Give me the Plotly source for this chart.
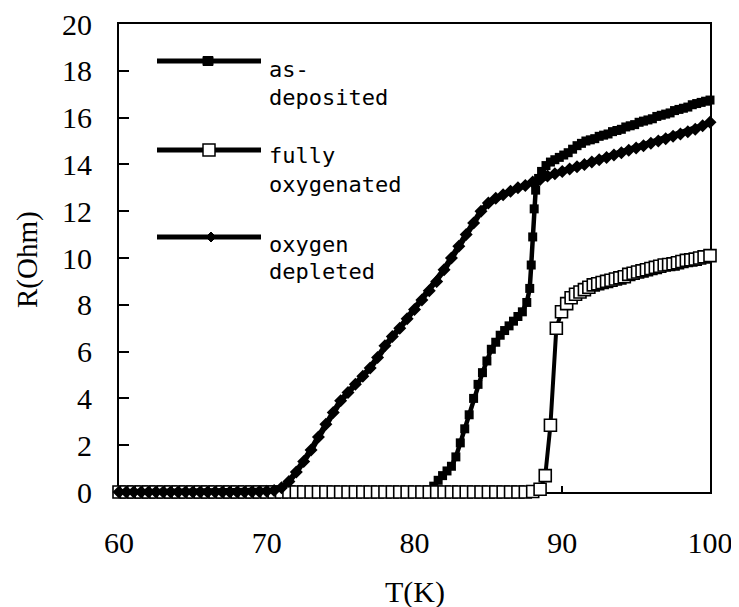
import plotly.graph_objects as go

# ---------------- data ----------------
asdep_T = [60.0, 60.5, 61.0, 61.5, 62.0, 62.5, 63.0, 63.5, 64.0, 64.5, 65.0, 65.5, 66.0, 66.5,
           67.0, 67.5, 68.0, 68.5, 69.0, 69.5, 70.0, 70.5, 71.0, 71.5, 72.0, 72.5, 73.0, 73.5,
           74.0, 74.5, 75.0, 75.5, 76.0, 76.5, 77.0, 77.5, 78.0, 78.5, 79.0, 79.5, 80.0, 80.5,
           81.0, 81.3, 81.6, 81.9, 82.2, 82.5, 82.8, 83.1, 83.4, 83.7, 84.0, 84.3, 84.6, 84.9,
           85.2, 85.5, 85.8, 86.1, 86.4, 86.7, 87.0, 87.3, 87.6, 87.8, 87.9, 88.0, 88.1, 88.2,
           88.4, 88.6, 88.9, 89.2, 89.5, 89.8, 90.1, 90.4, 90.7, 91.0, 91.3, 91.6, 91.9, 92.2,
           92.5, 92.8, 93.1, 93.4, 93.7, 94.0, 94.3, 94.6, 94.9, 95.2, 95.5, 95.8, 96.1, 96.4,
           96.7, 97.0, 97.3, 97.6, 97.9, 98.2, 98.5, 98.8, 99.1, 99.4, 99.7, 100.0]
asdep_R = [0.0, 0.0, 0.0, 0.0, 0.0, 0.0, 0.0, 0.0, 0.0, 0.0, 0.0, 0.0, 0.0, 0.0,
           0.0, 0.0, 0.0, 0.0, 0.0, 0.0, 0.0, 0.0, 0.0, 0.0, 0.0, 0.0, 0.0, 0.0,
           0.0, 0.0, 0.0, 0.0, 0.0, 0.0, 0.0, 0.0, 0.0, 0.0, 0.0, 0.0, 0.0, 0.01,
           0.05, 0.25, 0.5, 0.7, 0.9, 1.1, 1.5, 2.1, 2.7, 3.3, 4.0, 4.6, 5.1, 5.6,
           6.1, 6.4, 6.7, 6.9, 7.1, 7.3, 7.5, 7.7, 8.1, 8.7, 9.7, 10.9, 12.1, 12.9,
           13.4, 13.7, 13.95, 14.1, 14.2, 14.3, 14.4, 14.5, 14.65, 14.8, 14.9, 15.0, 15.05, 15.1,
           15.2, 15.25, 15.3, 15.4, 15.45, 15.5, 15.6, 15.65, 15.7, 15.8, 15.85, 15.9, 15.95, 16.05,
           16.1, 16.15, 16.2, 16.3, 16.35, 16.4, 16.45, 16.55, 16.6, 16.65, 16.7, 16.75]

oxy_T = [60.0, 60.5, 61.0, 61.5, 62.0, 62.5, 63.0, 63.5, 64.0, 64.5, 65.0, 65.5, 66.0, 66.5,
         67.0, 67.5, 68.0, 68.5, 69.0, 69.5, 70.0, 70.5, 71.0, 71.5, 72.0, 72.5, 73.0, 73.5,
         74.0, 74.5, 75.0, 75.5, 76.0, 76.5, 77.0, 77.5, 78.0, 78.5, 79.0, 79.5, 80.0, 80.5,
         81.0, 81.5, 82.0, 82.5, 83.0, 83.5, 84.0, 84.5, 85.0, 85.5, 86.0, 86.5, 87.0, 87.5,
         88.0, 88.5, 88.85, 89.2, 89.6, 89.95, 90.3, 90.6, 90.9, 91.2, 91.5, 91.8, 92.1, 92.4,
         92.7, 93.0, 93.3, 93.6, 93.9, 94.2, 94.5, 94.8, 95.1, 95.4, 95.7, 96.0, 96.3, 96.6,
         96.9, 97.2, 97.5, 97.8, 98.1, 98.4, 98.7, 99.0, 99.3, 99.6, 100.0]
oxy_R = [0.0, 0.0, 0.0, 0.0, 0.0, 0.0, 0.0, 0.0, 0.0, 0.0, 0.0, 0.0, 0.0, 0.0,
         0.0, 0.0, 0.0, 0.0, 0.0, 0.0, 0.0, 0.0, 0.0, 0.0, 0.0, 0.0, 0.0, 0.0,
         0.0, 0.0, 0.0, 0.0, 0.0, 0.0, 0.0, 0.0, 0.0, 0.0, 0.0, 0.0, 0.0, 0.0,
         0.0, 0.0, 0.0, 0.0, 0.0, 0.0, 0.0, 0.0, 0.0, 0.0, 0.0, 0.0, 0.0, 0.0,
         0.02, 0.12, 0.7, 2.85, 7.0, 7.7, 8.05, 8.3, 8.45, 8.55, 8.65, 8.75, 8.85, 8.9,
         8.95, 9.0, 9.05, 9.1, 9.15, 9.2, 9.3, 9.35, 9.4, 9.45, 9.5, 9.55, 9.6, 9.65,
         9.7, 9.72, 9.75, 9.8, 9.85, 9.9, 9.92, 9.95, 10.0, 10.05, 10.1]

dep_T = [60.0, 60.5, 61.0, 61.5, 62.0, 62.5, 63.0, 63.5, 64.0, 64.5, 65.0, 65.5, 66.0, 66.5,
         67.0, 67.5, 68.0, 68.5, 69.0, 69.5, 70.0, 70.5, 71.0, 71.5, 72.0, 72.5, 73.0, 73.5,
         74.0, 74.5, 75.0, 75.5, 76.0, 76.5, 77.0, 77.5, 78.0, 78.5, 79.0, 79.5, 80.0, 80.5,
         81.0, 81.5, 82.0, 82.5, 83.0, 83.5, 84.0, 84.5, 85.0, 85.5, 86.0, 86.5, 87.0, 87.5,
         88.0, 88.5, 89.0, 89.5, 90.0, 90.5, 91.0, 91.5, 92.0, 92.5, 93.0, 93.5, 94.0, 94.5,
         95.0, 95.5, 96.0, 96.5, 97.0, 97.5, 98.0, 98.5, 99.0, 99.5, 100.0]
dep_R = [0.0, 0.0, 0.0, 0.0, 0.0, 0.0, 0.0, 0.0, 0.0, 0.0, 0.0, 0.0, 0.0, 0.0,
         0.0, 0.0, 0.0, 0.0, 0.01, 0.02, 0.03, 0.06, 0.18, 0.45, 0.85, 1.3, 1.8, 2.35,
         2.9, 3.4, 3.9, 4.25, 4.6, 4.95, 5.3, 5.75, 6.25, 6.65, 7.0, 7.4, 7.8, 8.2,
         8.6, 9.0, 9.5, 10.0, 10.5, 11.0, 11.5, 12.0, 12.35, 12.55, 12.7, 12.85, 13.0, 13.1,
         13.25, 13.35, 13.5, 13.6, 13.7, 13.8, 13.9, 14.0, 14.1, 14.2, 14.3, 14.4, 14.5, 14.6,
         14.7, 14.8, 14.9, 15.0, 15.1, 15.2, 15.3, 15.4, 15.5, 15.65, 15.8]

series_names = ["as-deposited", "fully oxygenated", "oxygen depleted"]
legend_lines = [["as-", "deposited"], ["fully", "oxygenated"], ["oxygen", "depleted"]]
x_ticks = [60, 70, 80, 90, 100]
y_ticks = [0, 2, 4, 6, 8, 10, 12, 14, 16, 18, 20]

# ---------------- layout geometry ----------------
OFF = 8                       # page body margin of the browser
W, H = 739 - OFF, 607 - OFF
PL, PR, PT, PB = 119, 710, 24, 492   # desired plot area in page pixels


def px(x):
    return (x - PL) / (PR - PL)


def py(y):
    return (PB - y) / (PB - PT)


fig = go.Figure()

fig.add_trace(go.Scatter(
    x=asdep_T, y=asdep_R, mode="lines+markers", name=series_names[0],
    line=dict(color="black", width=4.5),
    marker=dict(symbol="square", size=9, color="black"),
    cliponaxis=False, showlegend=False))
fig.add_trace(go.Scatter(
    x=oxy_T, y=oxy_R, mode="lines+markers", name=series_names[1],
    line=dict(color="black", width=4),
    marker=dict(symbol="square", size=12, color="white", line=dict(color="black", width=1.6)),
    cliponaxis=False, showlegend=False))
fig.add_trace(go.Scatter(
    x=dep_T, y=dep_R, mode="lines+markers", name=series_names[2],
    line=dict(color="black", width=6),
    marker=dict(symbol="diamond", size=10, color="black"),
    cliponaxis=False, showlegend=False))

# ---------------- hand-made legend (long sample lines) ----------------
shapes = []
annotations = []
leg_y = [61, 150, 237]
leg_mx = [208, 209, 211]
text_base = [[77, 104], [162, 191], [251, 278]]
for i in range(3):
    yy = leg_y[i]
    shapes.append(dict(type="line", xref="paper", yref="paper",
                       x0=px(157), x1=px(261), y0=py(yy), y1=py(yy),
                       line=dict(color="black", width=5)))
    mx = leg_mx[i]
    if i == 0:
        shapes.append(dict(type="rect", xref="paper", yref="paper",
                           x0=px(mx - 5), x1=px(mx + 5), y0=py(yy + 4.5), y1=py(yy - 4.5),
                           fillcolor="black", line=dict(color="black", width=1)))
    elif i == 1:
        shapes.append(dict(type="rect", xref="paper", yref="paper",
                           x0=px(mx - 6), x1=px(mx + 6), y0=py(yy + 6), y1=py(yy - 6),
                           fillcolor="white", line=dict(color="black", width=1.5)))
    else:
        path = "M {} {} L {} {} L {} {} L {} {} Z".format(
            px(mx - 5), py(yy), px(mx), py(yy - 5), px(mx + 5), py(yy), px(mx), py(yy + 5))
        shapes.append(dict(type="path", xref="paper", yref="paper", path=path,
                           fillcolor="black", line=dict(color="black", width=1)))
    for j, txt in enumerate(legend_lines[i]):
        annotations.append(dict(
            text=txt, xref="paper", yref="paper", x=px(267), y=py(text_base[i][j] - 7),
            xanchor="left", yanchor="middle", showarrow=False,
            font=dict(family="DejaVu Sans Mono", size=22, color="black")))

# axis titles
annotations.append(dict(text="T(K)", xref="paper", yref="paper", x=0.5, y=py(592),
                        xanchor="center", yanchor="middle", showarrow=False,
                        font=dict(family="Liberation Serif", size=30, color="black")))
annotations.append(dict(text="R(Ohm)", xref="paper", yref="paper", x=px(27), y=py(260),
                        xanchor="center", yanchor="middle", showarrow=False, textangle=-90,
                        font=dict(family="Liberation Serif", size=29, color="black")))

axis_common = dict(showgrid=False, zeroline=False, showline=True, linecolor="black",
                   linewidth=2, mirror=True, ticks="inside", tickcolor="black",
                   tickwidth=2, layer="below traces", automargin=False,
                   ticklabeloverflow="allow",
                   tickfont=dict(family="Liberation Serif", size=30, color="black"))

fig.update_layout(
    width=W, height=H,
    margin=dict(l=PL - OFF, r=W - (PR - OFF), t=PT - OFF, b=H - (PB - OFF), autoexpand=False),
    paper_bgcolor="white", plot_bgcolor="white",
    xaxis=dict(range=[60, 100], tickvals=x_ticks, ticktext=[str(v) for v in x_ticks],
               ticklen=6, ticklabelstandoff=23, **axis_common),
    yaxis=dict(range=[0, 20], tickvals=y_ticks, ticktext=[str(v) for v in y_ticks],
               ticklen=10, ticklabelstandoff=19, **axis_common),
    shapes=shapes, annotations=annotations, showlegend=False,
)

fig.write_html("out.html")
